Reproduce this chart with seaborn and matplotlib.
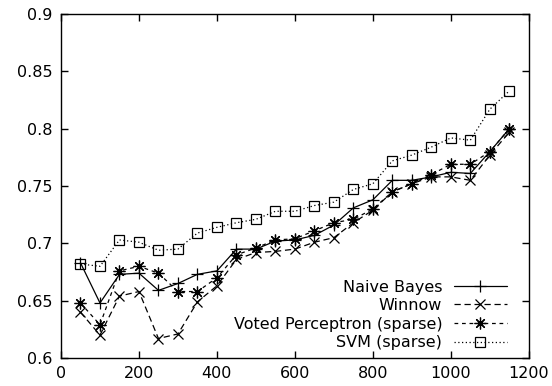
import seaborn as sns
import matplotlib
matplotlib.use('Agg')
import matplotlib.pyplot as plt
import pandas as pd

# training set size
sizes = [50, 100, 150, 200, 250, 300, 350, 400, 450, 500, 550, 600,
         650, 700, 750, 800, 850, 900, 950, 1000, 1050, 1100, 1150]

# accuracy
naive_bayes = [0.683, 0.648, 0.673, 0.674, 0.659, 0.665, 0.673, 0.676, 0.695, 0.695, 0.702, 0.703,
               0.707, 0.716, 0.731, 0.738, 0.755, 0.755, 0.758, 0.762, 0.761, 0.780, 0.800]
winnow = [0.640, 0.620, 0.654, 0.658, 0.617, 0.621, 0.649, 0.663, 0.686, 0.692, 0.693, 0.695,
          0.701, 0.705, 0.718, 0.729, 0.745, 0.752, 0.758, 0.758, 0.755, 0.777, 0.797]
voted_perceptron = [0.648, 0.629, 0.676, 0.680, 0.674, 0.658, 0.658, 0.670, 0.690, 0.696, 0.703, 0.704,
                    0.711, 0.718, 0.721, 0.730, 0.745, 0.752, 0.760, 0.769, 0.769, 0.780, 0.800]
svm = [0.682, 0.680, 0.703, 0.701, 0.694, 0.695, 0.709, 0.714, 0.718, 0.721, 0.728, 0.728,
       0.733, 0.736, 0.747, 0.752, 0.772, 0.777, 0.784, 0.792, 0.790, 0.817, 0.833]

series = {
    'Naive Bayes': naive_bayes,
    'Winnow': winnow,
    'Voted Perceptron (sparse)': voted_perceptron,
    'SVM (sparse)': svm,
}
styles = {
    'Naive Bayes': dict(linestyle='-', marker='+', ms=9),
    'Winnow': dict(linestyle=(0, (5, 3)), marker='x', ms=7),
    'Voted Perceptron (sparse)': dict(linestyle=(0, (3, 3)), marker=(8, 2, 0), ms=8.5),
    'SVM (sparse)': dict(linestyle=(0, (1, 2)), marker='s', ms=6.5),
}

sns.set_style('ticks')
plt.rcParams['font.family'] = ['DejaVu Sans']
plt.rcParams['text.color'] = 'black'

fig = plt.figure(figsize=(5.52, 3.86), dpi=100)
ax = fig.add_axes([0.1105, 0.0725, 0.8475, 0.891])

for name, vals in series.items():
    df = pd.DataFrame({'size': sizes, 'acc': vals})
    sns.lineplot(data=df, x='size', y='acc', ax=ax, color='black', lw=0.9,
                 mew=0.9, mec='black', mfc='none', label=name, **styles[name])

ax.set_xlim(0, 1200)
ax.set_ylim(0.6, 0.9)
ax.set_xticks(range(0, 1201, 200))
ax.set_yticks([0.6, 0.65, 0.7, 0.75, 0.8, 0.85, 0.9])
ax.set_yticklabels(['0.6', '0.65', '0.7', '0.75', '0.8', '0.85', '0.9'])
ax.set_xlabel('')
ax.set_ylabel('')
ax.tick_params(direction='in', top=True, right=True, length=5, width=1,
               labelsize=11.5, colors='black', pad=6)
for s in ax.spines.values():
    s.set_linewidth(1)
    s.set_color('black')

leg = ax.legend(loc='lower right', bbox_to_anchor=(0.953, 0.023), frameon=False,
                markerfirst=False, fontsize=11.5, handlelength=3.3, labelspacing=0.22,
                handletextpad=0.75, borderpad=0, borderaxespad=0, alignment='right',
                labelcolor='black')
for t in leg.get_texts():
    t.set_ha('right')

fig.savefig('out.png', dpi=100)
